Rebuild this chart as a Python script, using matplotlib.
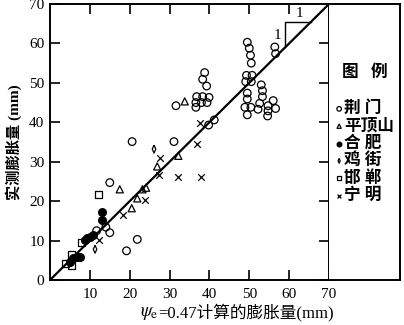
import matplotlib.pyplot as plt
import numpy as np

plt.rcParams['font.family'] = ['Liberation Serif', 'Noto Sans CJK SC']
plt.rcParams['mathtext.fontset'] = 'stix'

# 荆门 (open circles)
jm_x = [49.5, 50.0, 50.3, 50.5, 49.3, 50.7, 49.1, 50.5, 49.5, 49.5, 48.9, 50.4, 49.5,
        53.0, 53.3, 53.3, 52.6, 52.2, 56.0, 54.7, 56.6, 54.7, 54.6, 56.4, 56.6,
        38.8, 38.3, 39.3, 36.8, 38.3, 39.9, 36.6, 38.0, 39.4, 36.6, 39.8, 41.2,
        31.6, 20.6, 31.1, 15.0, 11.7, 14.0, 15.0, 21.9, 19.2]
jm_y = [60.3, 58.8, 57.0, 55.0, 51.9, 51.9, 50.3, 50.3, 47.4, 45.9, 43.8, 43.8, 41.9,
        49.5, 48.0, 46.5, 44.8, 43.3, 45.5, 44.2, 43.5, 42.9, 41.6, 59.1, 57.4,
        52.6, 50.9, 49.2, 46.5, 46.5, 46.3, 45.0, 45.0, 45.0, 43.8, 39.3, 40.6,
        44.2, 35.1, 35.1, 24.7, 12.5, 13.4, 12.0, 10.3, 7.4]
# 平顶山 (open triangles)
pds_x = [33.8, 32.2, 26.9, 24.1, 23.2, 17.5, 21.9, 20.5]
pds_y = [45.3, 31.5, 28.8, 23.4, 23.0, 23.0, 20.7, 18.2]
# 合肥 (filled circles)
hf_x = [13.0, 13.0, 8.8, 9.4, 10.0, 10.9, 5.8, 6.7, 7.5, 5.0]
hf_y = [17.3, 15.2, 10.2, 10.6, 11.0, 11.4, 5.5, 5.9, 5.8, 4.6]
# 鸡街 (thin diamonds)
jj_x = [26.1, 11.3]
jj_y = [33.2, 7.8]
# 邯郸 (open squares)
hd_x = [12.1, 7.8, 5.4, 3.9, 5.4]
hd_y = [21.6, 9.4, 6.4, 4.2, 3.6]
# 宁明 (crosses)
nm_x = [37.6, 37.0, 27.6, 27.4, 32.2, 38.0, 23.8, 18.4, 12.4]
nm_y = [39.9, 34.6, 30.9, 26.6, 26.1, 26.1, 20.3, 16.5, 10.2]

line_x = [0, 70]
line_y = [0, 70]
slope_x = [59, 59, 65.5]
slope_y = [59, 65.5, 65.5]

ticks = [10, 20, 30, 40, 50, 60, 70]
yticks = [0, 10, 20, 30, 40, 50, 60, 70]

fig = plt.figure(figsize=(4.04, 3.25), dpi=100)
ax = fig.add_axes([50 / 404, 45 / 325, 279 / 404, 276 / 325])
lax = fig.add_axes([329 / 404, 45 / 325, 71 / 404, 276 / 325])

diamond = [(0, 1), (0.45, 0), (0, -1), (-0.45, 0), (0, 1)]
kw = dict(facecolors='none', edgecolors='black', linewidths=0.9, zorder=3)
s1 = ax.scatter(jm_x, jm_y, s=30, marker='o', label='荆 门', **kw)
s2 = ax.scatter(pds_x, pds_y, s=26, marker='^', label='平顶山', **kw)
s3 = ax.scatter(hf_x, hf_y, s=30, marker='o', color='black', zorder=3, label='合 肥')
s4 = ax.scatter(jj_x, jj_y, s=32, marker=diamond, label='鸡 街', **kw)
s5 = ax.scatter(hd_x, hd_y, s=26, marker='s', label='邯 郸', **kw)
s6 = ax.scatter(nm_x, nm_y, s=22, marker='x', color='black', linewidths=0.9,
                zorder=3, label='宁 明')

ax.plot(line_x, line_y, color='black', lw=1.6, zorder=2)
ax.plot(slope_x, slope_y, color='black', lw=1.0)
ax.text(57.2, 62, '1', fontsize=11, ha='center', va='center')
ax.text(62.5, 67.6, '1', fontsize=11, ha='center', va='center')

ax.set_xlim(0, 70)
ax.set_ylim(0, 70)
ax.set_xticks(ticks)
ax.set_yticks(yticks)
ax.tick_params(direction='in', length=7, width=1.2, top=True, right=True,
               labelsize=11, pad=4)
ax.tick_params(axis='x', pad=6)
for sp in ax.spines.values():
    sp.set_linewidth(1.4)

ax.set_ylabel('实测膨胀量 (mm)', fontsize=11, fontweight='bold', labelpad=5)

xl = fig.text(0.61, 0.012, '=0.47计算的膨胀量(mm)', fontsize=12,
              ha='center', va='bottom')
ax.annotate(r'$\psi_{\rm e}$', xy=(0, 0.45), xycoords=xl, fontsize=13.5,
            ha='right', va='center')

lax.set_xticks([])
lax.set_yticks([])
lax.spines['left'].set_visible(False)
for sp in lax.spines.values():
    sp.set_linewidth(1.4)

lax.text(0.5, 0.75, '图   例', transform=lax.transAxes, fontsize=12,
         fontweight='bold', ha='center', va='center')
leg = lax.legend(handles=[s1, s2, s3, s4, s5, s6], loc='upper center',
                 bbox_to_anchor=(0.5, 0.69), frameon=False,
                 fontsize=12, handletextpad=0.05,
                 handlelength=0.5, labelspacing=0.08, borderpad=0.2,
                 markerscale=0.6)
for t in leg.get_texts():
    t.set_fontweight('bold')

fig.savefig('out.png', dpi=100)
